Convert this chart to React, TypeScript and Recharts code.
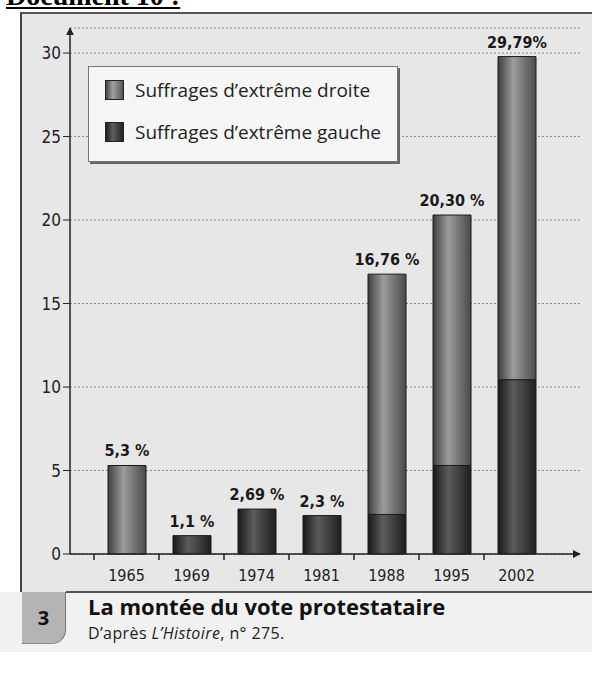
import { BarChart, Bar, XAxis, YAxis, CartesianGrid, LabelList } from 'recharts';

const years = ['1965', '1969', '1974', '1981', '1988', '1995', '2002'];
const gauche = [0, 1.1, 2.69, 2.3, 2.37, 5.3, 10.44];
const droite = [5.3, 0, 0, 0, 14.39, 15.0, 19.35];
const totalLabels = ['5,3 %', '1,1 %', '2,69 %', '2,3 %', '16,76 %', '20,30 %', '29,79%'];
const yTicks = [0, 5, 10, 15, 20, 25, 30];

// the total sits on whichever segment is the top of the stack
const data = years.map((year, i) => ({
    year,
    gauche: gauche[i],
    droite: droite[i],
    lblG: droite[i] > 0 ? '' : totalLabels[i],
    lblD: droite[i] > 0 ? totalLabels[i] : '',
}));

const condensed = '"DejaVu Sans Condensed", "Liberation Sans Narrow", "DejaVu Sans", sans-serif';

function YearTick(props: any) {
    const { x, y, payload } = props;
    const off = payload.offset || 32.5;
    return (
        <g>
            <line x1={x - off} y1={y - 8} x2={x - off} y2={y - 2} stroke="#222" strokeWidth={1.5} />
            <text x={x} y={y + 19} textAnchor="middle" fontFamily={condensed} fontSize={16} fill="#222">
                {payload.value}
            </text>
        </g>
    );
}

function TotalLabel(props: any) {
    const { x, y, width, value } = props;
    if (!value) return null;
    return (
        <text x={x + width / 2} y={y - 9} textAnchor="middle" fontFamily={condensed} fontWeight="bold" fontSize={16} fill="#1a1a1a">
            {value}
        </text>
    );
}

function LegendBox() {
    const row = (grad: string, label: string) => (
        <div style={{ display: 'flex', alignItems: 'center', height: 42 }}>
            <div style={{ width: 17, height: 18, background: grad, border: '1px solid #222', marginRight: 11 }} />
            <span style={{ fontFamily: '"Open Sans", sans-serif', fontSize: 19, color: '#222' }}>{label}</span>
        </div>
    );
    return (
        <div style={{
            position: 'absolute', left: 88, top: 66, width: 310, height: 96, padding: '2px 0 0 16px', background: '#f6f6f6',
            border: '1px solid #777', boxShadow: '2px 2px 0 #666', boxSizing: 'border-box',
        }}>
            {row('linear-gradient(90deg,#444,#a0a0a0 40%,#555)', 'Suffrages d\u2019extrême droite')}
            {row('linear-gradient(90deg,#1c1c1c,#606060 40%,#222)', 'Suffrages d\u2019extrême gauche')}
        </div>
    );
}

export default function App() {
    return (
        <div style={{ position: 'absolute', left: 0, top: 0, width: 592, height: 675, background: '#fff', overflow: 'hidden' }}>
            <div style={{
                position: 'absolute', left: 6, top: -20, fontFamily: '"Liberation Serif", serif', fontWeight: 'bold',
                fontSize: 28, textDecoration: 'underline', color: '#000', whiteSpace: 'nowrap',
            }}>
                Document 10 :
            </div>

            <div style={{
                position: 'absolute', left: 20, top: 12, width: 572, height: 580, background: '#e7e7e7',
                borderLeft: '2px solid #444', borderTop: '2px solid #555', boxSizing: 'border-box',
            }} />

            <div style={{ position: 'absolute', left: 0, top: 0 }}>
                <BarChart width={592} height={590} data={data} margin={{ top: 28, right: 12, bottom: 6, left: 0 }} barSize={38}>
                    <defs>
                        <linearGradient id="gDroite" x1="0" y1="0" x2="1" y2="0">
                            <stop offset="0%" stopColor="#3e3e3e" />
                            <stop offset="40%" stopColor="#9c9c9c" />
                            <stop offset="100%" stopColor="#4a4a4a" />
                        </linearGradient>
                        <linearGradient id="gGauche" x1="0" y1="0" x2="1" y2="0">
                            <stop offset="0%" stopColor="#181818" />
                            <stop offset="40%" stopColor="#5c5c5c" />
                            <stop offset="100%" stopColor="#1e1e1e" />
                        </linearGradient>
                        <marker id="arrow" viewBox="0 0 10 10" refX="9" refY="5" markerWidth="8" markerHeight="8"
                            markerUnits="userSpaceOnUse" orient="auto-start-reverse">
                            <path d="M0,0 L10,5 L0,10 z" fill="#222" />
                        </marker>
                    </defs>
                    <CartesianGrid vertical={false} stroke="#8a8a8a" strokeDasharray="2 2" />
                    <XAxis
                        dataKey="year"
                        height={30}
                        padding={{ left: 24, right: 31 }}
                        tickLine={false}
                        axisLine={{ stroke: '#222', strokeWidth: 1.5, markerEnd: 'url(#arrow)' }}
                        tick={<YearTick />}
                        interval={0}
                    />
                    <YAxis
                        width={70}
                        domain={[0, 31.5]}
                        ticks={yTicks}
                        tickSize={7}
                        tickLine={{ stroke: '#222' }}
                        axisLine={{ stroke: '#222', strokeWidth: 1.5, markerStart: 'url(#arrow)' }}
                        tick={{ fill: '#222', fontSize: 17, fontFamily: condensed }}
                    />
                    <Bar dataKey="gauche" stackId="v" fill="url(#gGauche)" stroke="#1a1a1a" isAnimationActive={false}>
                        <LabelList dataKey="lblG" content={<TotalLabel />} />
                    </Bar>
                    <Bar dataKey="droite" stackId="v" fill="url(#gDroite)" stroke="#1a1a1a" isAnimationActive={false}>
                        <LabelList dataKey="lblD" content={<TotalLabel />} />
                    </Bar>
                </BarChart>
            </div>

            <LegendBox />

            <div style={{ position: 'absolute', left: 0, top: 592, width: 592, height: 60, background: '#f1f1f1' }} />
            <div style={{ position: 'absolute', left: 66, top: 591, width: 526, height: 0, borderTop: '2px solid #555' }} />
            <div style={{
                position: 'absolute', left: 22, top: 592, width: 44, height: 52, background: '#b4b4b4',
                borderBottomRightRadius: 14, borderRight: '1px solid #777', borderBottom: '1px solid #888',
                boxSizing: 'border-box', display: 'flex', alignItems: 'center', justifyContent: 'center',
                fontFamily: '"Open Sans", sans-serif', fontWeight: 'bold', fontSize: 20, color: '#111',
            }}>
                3
            </div>
            <div style={{
                position: 'absolute', left: 88, top: 591, fontFamily: '"Open Sans", sans-serif', fontWeight: 'bold',
                fontSize: 22, color: '#111', whiteSpace: 'nowrap',
            }}>
                La montée du vote protestataire
            </div>
            <div style={{
                position: 'absolute', left: 88, top: 622, fontFamily: '"Open Sans", sans-serif',
                fontSize: 16, letterSpacing: 0.4, color: '#222', whiteSpace: 'nowrap',
            }}>
                D&#8217;après <i>L&#8217;Histoire</i>, n° 275.
            </div>
        </div>
    );
}
